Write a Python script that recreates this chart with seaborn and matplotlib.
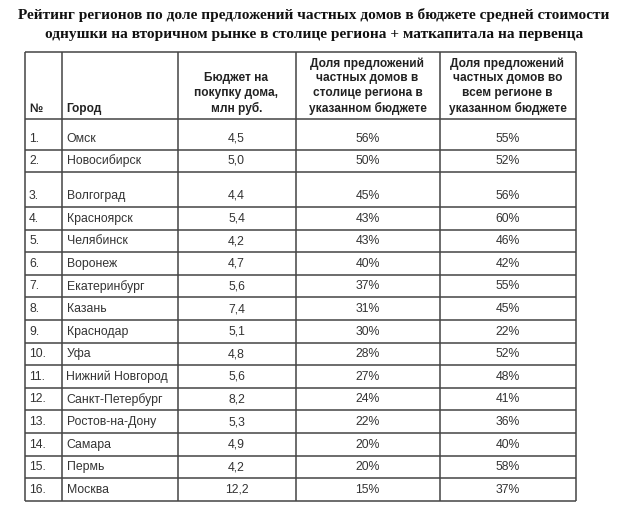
import matplotlib
matplotlib.use("Agg")
from matplotlib import pyplot as plt
import seaborn as sns

# ---------------- data ----------------
title = ("Рейтинг регионов по доле предложений частных домов в бюджете средней стоимости\n"
         "однушки на вторичном рынке в столице региона + маткапитала на первенца")
headers = ["№", "Город", "Бюджет на\nпокупку дома,\nмлн руб.",
           "Доля предложений\nчастных домов в\nстолице региона в\nуказанном бюджете",
           "Доля предложений\nчастных домов во\nвсем регионе в\nуказанном бюджете"]
ranks = ["1.", "2.", "3.", "4.", "5.", "6.", "7.", "8.", "9.", "10.", "11.", "12.", "13.", "14.", "15.", "16."]
cities = ["Омск", "Новосибирск", "Волгоград", "Красноярск", "Челябинск", "Воронеж", "Екатеринбург",
          "Казань", "Краснодар", "Уфа", "Нижний Новгород", "Санкт-Петербург", "Ростов-на-Дону",
          "Самара", "Пермь", "Москва"]
budget = ["4,5", "5,0", "4,4", "5,4", "4,2", "4,7", "5,6", "7,4", "5,1", "4,8", "5,6", "8,2", "5,3",
          "4,9", "4,2", "12,2"]
share_capital = ["56%", "50%", "45%", "43%", "43%", "40%", "37%", "31%", "30%", "28%", "27%", "24%",
                 "22%", "20%", "20%", "15%"]
share_region = ["55%", "52%", "56%", "60%", "46%", "42%", "55%", "45%", "22%", "52%", "48%", "41%",
                "36%", "40%", "58%", "37%"]

# ---------------- layout (pixels) ----------------
sns.set_style("white")
plt.rcParams['font.family'] = ['Liberation Sans', 'DejaVu Sans']

col_x = [25, 61.5, 177.5, 295.5, 439.5, 575.5]
row_y = [52, 119, 149.5, 171.5, 207]
while len(row_y) < 18:
    row_y.append(row_y[-1] + 22.6)

fig = plt.figure(figsize=(6.28, 5.13), dpi=100)
ax = fig.add_axes([0, 0, 1, 1])
ax.set_xlim(0, 628)
ax.set_ylim(513, 0)
ax.axis("off")

line_col = "#444444"
ax.hlines(row_y, col_x[0], col_x[-1], color=line_col, lw=1.1)
ax.vlines(col_x, row_y[0], row_y[-1], color=line_col, lw=1.1)

ax.text(314, 24.5, title, ha="center", va="center", fontsize=11.1, fontweight="bold",
        family=["Liberation Serif", "DejaVu Serif"], linespacing=1.68, color="#111111")

# header
hb = row_y[1] - 4
ax.text(col_x[0] + 4, hb, headers[0], ha="left", va="bottom", fontsize=8.6, fontweight="bold", color="#222222")
ax.text(col_x[1] + 5, hb, headers[1], ha="left", va="bottom", fontsize=8.6, fontweight="bold", color="#222222")
for j in range(2, 5):
    cx = (col_x[j] + col_x[j + 1]) / 2
    ax.text(cx, hb, headers[j], ha="center", va="bottom", fontsize=8.6, fontweight="bold",
            color="#222222", linespacing=1.3)

# body
txt_col = "#333333"
for i in range(len(cities)):
    y = row_y[i + 2] - 11
    ax.text(col_x[0] + 4, y, ranks[i], ha="left", va="center", fontsize=8.8, color=txt_col)
    ax.text(col_x[1] + 5, y, cities[i], ha="left", va="center", fontsize=8.8, color=txt_col)
    ax.text((col_x[2] + col_x[3]) / 2, y, budget[i], ha="center", va="center", fontsize=8.8, color=txt_col)
    ax.text((col_x[3] + col_x[4]) / 2, y, share_capital[i], ha="center", va="center", fontsize=8.8, color=txt_col)
    ax.text((col_x[4] + col_x[5]) / 2, y, share_region[i], ha="center", va="center", fontsize=8.8, color=txt_col)

fig.savefig("out.png", dpi=100)
